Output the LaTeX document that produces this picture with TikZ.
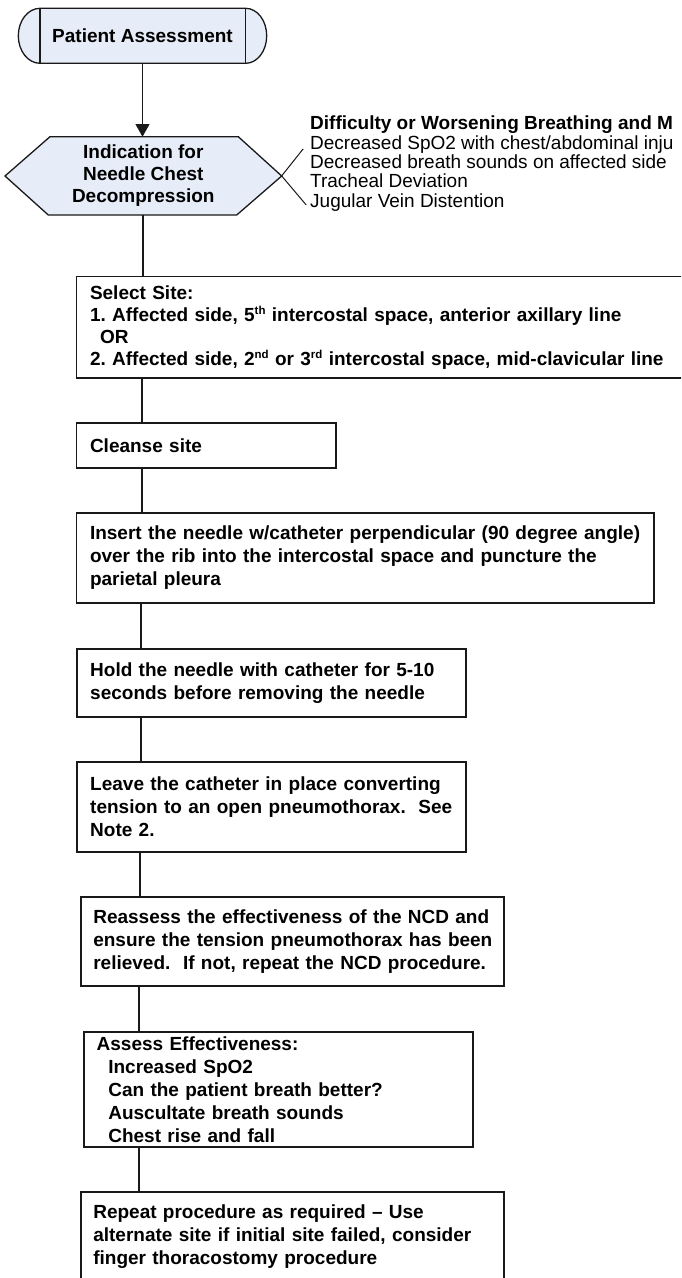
\documentclass[tikz,border=0pt]{standalone}
\usepackage{fontspec}
\setmainfont{Liberation Sans}
\usetikzlibrary{arrows.meta}
\definecolor{paleblue}{RGB}{231,237,248}
\definecolor{ink}{RGB}{25,25,25}
% small raised text for ordinals (5th, 2nd, 3rd)
\newcommand\supr[1]{\raisebox{6.5pt}{\fontsize{11.5}{11.5}\selectfont #1}}
\frenchspacing

\begin{document}
\begin{tikzpicture}[x=1pt,y=1pt,
  boldtext/.style={font=\fontsize{19}{23}\selectfont\bfseries},
  stepbox/.style n args={3}{boldtext, draw=ink, line width=1.8pt, fill=white,
     anchor=north west, align=left, inner xsep=0pt, inner ysep=0pt, outer sep=0pt,
     minimum width=#1, text width=#2, minimum height=#3},
  shapeline/.style={draw=ink, line width=1.3pt, fill=paleblue},
  link/.style={draw=ink, line width=1.9pt},
  arrowlink/.style={draw=ink, line width=1.1pt, -{Triangle[width=14pt,length=12.7pt]}},
  braceline/.style={draw=ink, line width=1pt},
]
\useasboundingbox (0,0) rectangle (681,-1278);
\clip (0,0) rectangle (681,-1278);

% start terminator with side bars
\draw[shapeline] (40,-8.3) -- (245.7,-8.3)
   arc[start angle=90, end angle=-90, x radius=21, y radius=27.5]
   -- (40,-63.3)
   arc[start angle=270, end angle=90, x radius=21.7, y radius=27.5] -- cycle;
\draw[shapeline, fill=none] (40,-8.3) -- (40,-63.3) (245.7,-8.3) -- (245.7,-63.3);
\node[boldtext, minimum width=248.4pt, minimum height=55pt, inner sep=0pt, outer sep=0pt]
  (pa) at (142.5,-35.8) {Patient Assessment};

% decision hexagon
\draw[shapeline] (5,-176) -- (50,-136.7) -- (238.3,-136.7) -- (281.7,-176)
   -- (236.7,-215) -- (48.3,-215) -- cycle;
\node[boldtext, align=center, minimum width=276.7pt, minimum height=78.3pt,
  inner sep=0pt, outer sep=0pt, font=\fontsize{19}{22}\selectfont\bfseries]
  (hex) at (143.3,-175.9) {Indication for\\Needle Chest\\Decompression};

\draw[arrowlink] (pa.south) -- (pa.south |- hex.north);

% bracket and list of signs
\draw[braceline] ([shift={(21.5,27)}]hex.east) -- (hex.east) -- ([shift={(24.5,-29)}]hex.east);
\node[anchor=north west, align=left, inner sep=0pt, font=\fontsize{19}{19.3}\selectfont]
  (signs) at (310,-116) {\textbf{Difficulty or Worsening Breathing and M}\\
  Decreased SpO2 with chest/abdominal inju\\
  Decreased breath sounds on affected side\\
  Tracheal Deviation\\
  Jugular Vein Distention};

% procedure steps
\node[stepbox={640pt}{613pt}{101.8pt}, font=\fontsize{19}{22}\selectfont\bfseries]
  (site) at (76.5,-276.5) {\mbox{Select Site:}\\
  \mbox{1. Affected side, 5\supr{th} intercostal space, anterior axillary line}\\
  \mbox{\hspace*{10pt}OR}\\
  \mbox{2. Affected side, 2\supr{nd} or 3\supr{rd} intercostal space, mid-clavicular line}};

\node[stepbox={259.5pt}{232.5pt}{45pt}] (cleanse) at (76.5,-423) {Cleanse site};

\node[stepbox={577.5pt}{550.5pt}{90pt}] (insert) at (76.5,-513)
  {\mbox{Insert the needle w/catheter perpendicular (90 degree angle)}\\
   \mbox{over the rib into the intercostal space and puncture the}\\
   \mbox{parietal pleura}};

\node[stepbox={389.3pt}{362.3pt}{68pt}] (hold) at (76.7,-649)
  {\mbox{Hold the needle with catheter for 5-10}\\
   \mbox{seconds before removing the needle}};

\node[stepbox={389.3pt}{362.3pt}{90pt}] (leave) at (76.7,-762)
  {\mbox{Leave the catheter in place converting}\\
   \mbox{tension to an open pneumothorax.\ \ See}\\
   \mbox{Note 2.}};

\node[stepbox={423.3pt}{398.1pt}{89pt}] (reassess) at (80.7,-897)
  {\mbox{Reassess the effectiveness of the NCD and}\\
   \mbox{ensure the tension pneumothorax has been}\\
   \mbox{relieved.\ \ If not, repeat the NCD procedure.}};

\node[stepbox={389.3pt}{363.9pt}{115pt}] (check) at (84,-1032)
  {\mbox{Assess Effectiveness:}\\
   \mbox{\hspace*{11.6pt}Increased SpO2}\\
   \mbox{\hspace*{11.6pt}Can the patient breath better?}\\
   \mbox{\hspace*{11.6pt}Auscultate breath sounds}\\
   \mbox{\hspace*{11.6pt}Chest rise and fall}};

\node[stepbox={423.3pt}{398.1pt}{89pt}] (again) at (80.7,-1192)
  {\mbox{Repeat procedure as required – Use}\\
   \mbox{alternate site if initial site failed, consider}\\
   \mbox{finger thoracostomy procedure}};

% connector columns
\coordinate (c1) at (142,0);
\coordinate (c2) at (141,0);
\coordinate (c3) at (140,0);
\coordinate (c4) at (139.3,0);

\draw[link] (hex.south) -- (hex.south |- site.north);
\draw[link] (site.south -| c1) -- (cleanse.north -| c1);
\draw[link] (cleanse.south -| c1) -- (insert.north -| c1);
\draw[link] (insert.south -| c2) -- (hold.north -| c2);
\draw[link] (hold.south -| c2) -- (leave.north -| c2);
\draw[link] (leave.south -| c3) -- (reassess.north -| c3);
\draw[link] (reassess.south -| c4) -- (check.north -| c4);
\draw[link] (check.south -| c4) -- (again.north -| c4);
\end{tikzpicture}
\end{document}
